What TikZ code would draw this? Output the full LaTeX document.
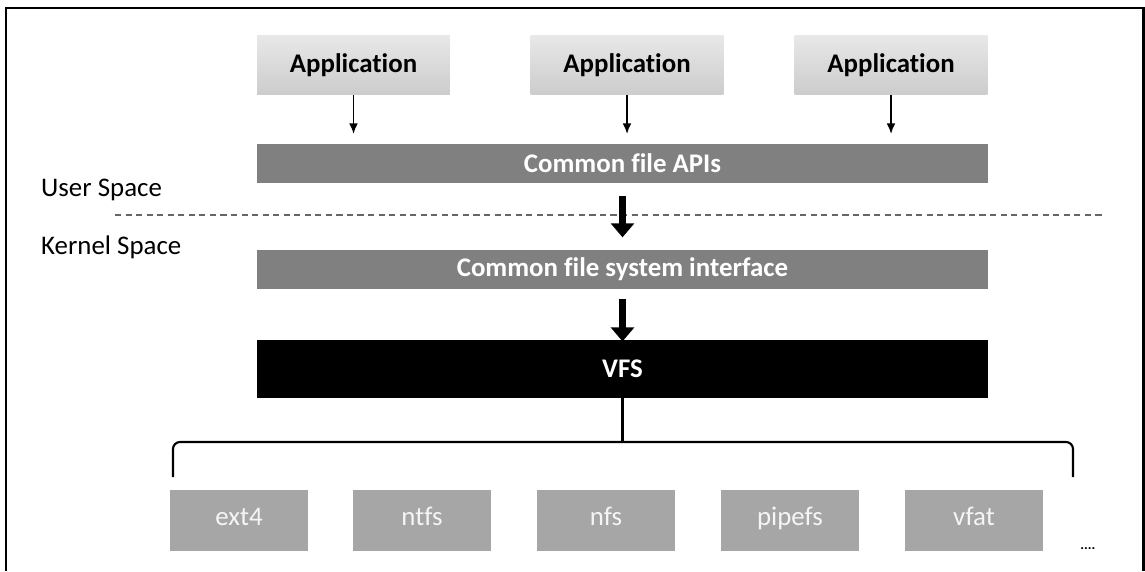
\documentclass[tikz,border=0pt]{standalone}
\usepackage{fontspec}
\setmainfont[Ligatures=NoCommon]{Carlito}
\usepackage{xcolor}
\usepackage{tikz}
\usetikzlibrary{arrows.meta,positioning,calc}

\tikzset{
  appbox/.style={top color=gray!18,bottom color=gray!40,draw=none,minimum width=3.86cm,minimum height=1.2cm,inner sep=0pt,font=\fontsize{15.3}{18}\selectfont\bfseries},
  layerbar/.style={fill=gray,minimum width=14.62cm,minimum height=0.78cm,inner sep=0pt,text=white,font=\fontsize{15.3}{18}\selectfont\bfseries},
  fsbox/.style={fill=gray!70,minimum width=2.76cm,minimum height=1.22cm,inner sep=0pt,text height=1.6ex,text depth=0.4ex,text=white!92!gray,font=\fontsize{15.3}{18}\selectfont},
  bigarrow/.style={line width=4.5pt,-{Triangle[width=13pt,length=8pt]}}
}

\begin{document}
\begin{tikzpicture}[x=0.02cm,y=-0.02cm]
		\useasboundingbox (0,0) rectangle (1145,571);
		\draw[line width=1.7pt] (6,571) -- (6,8) -- (1143,8) -- (1143,571);
		\node[appbox] (app1) at (353.5,65) {Application};
		\node[appbox] (app2) at (627,65) {Application};
		\node[appbox] (app3) at (891,65) {Application};
		\node[layerbar] (api) at (622.5,163.5) {Common file APIs};
		\node[layerbar] (iface) at (622.5,269.5) {Common file system interface};
		\node[layerbar,fill=black,minimum height=1.16cm] (vfs) at (622.5,369) {VFS};
		\foreach \n/\x/\t in {ext/239/ext4,ntfs/422/ntfs,nfs/606/nfs,pipe/790/pipefs,vfat/974/vfat}
			\node[fsbox] (\n) at (\x,520.5) {\t};
		\node[anchor=west,font=\fontsize{15.3}{18}\selectfont] (user) at (35,190) {User Space};
		\node[anchor=west,font=\fontsize{15.3}{18}\selectfont] (kernel) at (35,247) {Kernel Space};
		\node[anchor=west,inner sep=0pt,font=\footnotesize\bfseries] (more) at (1080,549) {....};
		\draw[gray!80!black,thick,dash pattern=on 3.5pt off 2.5pt] (115,215) -- (1102,215);
		\foreach \a in {app1,app2,app3}
			\draw[-{Latex[length=6pt,width=5pt]},line width=1pt,shorten >=5.5pt] (\a.south) -- (\a.south |- api.north);
		\draw[bigarrow,shorten <=7pt,shorten >=7pt] (api.south) -- (iface.north);
		\draw[bigarrow,shorten <=5.5pt,shorten >=-1pt] (iface.south) -- (vfs.north);
		\coordinate (brace) at (622.5,442);
		\draw[line width=1.2pt] (vfs.south) -- (brace);
		\draw[line width=1.2pt,rounded corners=4pt] (173,477) -- (173,442) -- (1073,442) -- (1073,477);
	\end{tikzpicture}
\end{document}
